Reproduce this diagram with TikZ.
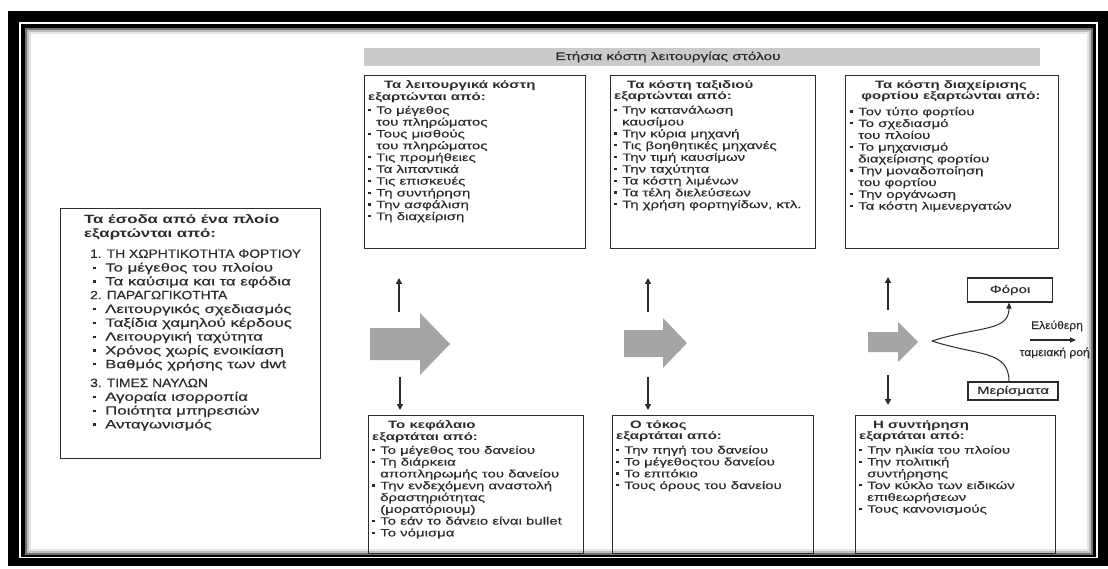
\documentclass[tikz,border=0pt]{standalone}
\usepackage{fontspec}
\setmainfont{Liberation Sans}[FakeStretch=1.4, UprightFeatures={FakeBold=0.35}]
\newfontfamily\capsf{Liberation Sans}[FakeStretch=1.15, FakeBold=0.35]
\newfontfamily\narf{Liberation Sans}[FakeStretch=1.1, FakeBold=0.35]
\usetikzlibrary{arrows.meta}
\definecolor{ink}{HTML}{2B2B2B}
\definecolor{barg}{HTML}{CACACA}
\definecolor{arrg}{HTML}{A5A5A5}
\newcommand{\bu}{\makebox[8pt][l]{\raisebox{2.6pt}{\rule{3pt}{2.2pt}}}}
\newcommand{\lbu}{\makebox[12pt][l]{\raisebox{2.8pt}{\rule{3pt}{2.2pt}}}}
\newcommand{\ind}{\hspace*{8pt}}
\begin{document}
\begin{tikzpicture}[x=1pt,y=-1pt,
  box/.style={draw=ink, line width=1.1pt, inner sep=0pt, anchor=north west},
  txt/.style={anchor=north west, align=left, inner sep=0pt, text=ink, font=\fontsize{10.7}{11.8}\selectfont},
  ltxt/.style={txt, font=\fontsize{12}{13.8}\selectfont},
  sarrow/.style={draw=ink, line width=1.6pt, -{Triangle[length=6pt,width=6pt]}},
  thinline/.style={draw=ink, line width=1pt},
  big/.style={fill=arrg, draw=none}]
\useasboundingbox (0,0) rectangle (1108,569);
% frame
\fill[black] (8,11) rectangle (1108,566);
\fill[white] (19,22) rectangle (1098,558);
\fill[black] (21,24) rectangle (1096,557);
\fill[white] (25,28) rectangle (1093,555);
\draw[black!55, line width=2pt] (26,29) rectangle (1092,554);
\draw[black!25, line width=2pt] (28,31) rectangle (1090,552);
\draw[black!10, line width=2pt] (30,33) rectangle (1088,550);

% header bar
\node[fill=barg, inner sep=0pt, anchor=north west, minimum width=676, minimum height=18] (bar) at (364,48) {};
\node[text=ink, inner sep=0pt, font=\fontsize{11}{12}\selectfont] (bartxt) at (668,57) {Ετήσια κόστη λειτουργίας στόλου};

% left box
\node[box, minimum width=260, minimum height=250] (lb) at (60,208) {};
\node[ltxt] (lbt) at (84,214) {\textbf{Τα έσοδα από ένα πλοίο}\\
\textbf{εξαρτώνται από:}\\[7pt]
\hspace*{6pt}{\capsf 1. ΤΗ ΧΩΡΗΤΙΚΟΤΗΤΑ ΦΟΡΤΙΟΥ}\\
\hspace*{9pt}\lbu Το μέγεθος του πλοίου\\
\hspace*{9pt}\lbu Τα καύσιμα και τα εφόδια\\
\hspace*{6pt}{\capsf 2. ΠΑΡΑΓΩΓΙΚΟΤΗΤΑ}\\
\hspace*{9pt}\lbu Λειτουργικός σχεδιασμός\\
\hspace*{9pt}\lbu Ταξίδια χαμηλού κέρδους\\
\hspace*{9pt}\lbu Λειτουργική ταχύτητα\\
\hspace*{9pt}\lbu Χρόνος χωρίς ενοικίαση\\
\hspace*{9pt}\lbu Βαθμός χρήσης των dwt\\[5pt]
\hspace*{6pt}{\capsf 3. ΤΙΜΕΣ ΝΑΥΛΩΝ}\\
\hspace*{9pt}\lbu Αγοραία ισορροπία\\
\hspace*{9pt}\lbu Ποιότητα μπηρεσιών\\
\hspace*{9pt}\lbu Ανταγωνισμός};

% top boxes
\node[box, minimum width=221, minimum height=173] (b1) at (364,75) {};
\node[txt] (b1t) at (368,80) {\hspace*{16pt}\textbf{Τα λειτουργικά κόστη}\\
\textbf{εξαρτώνται από:}\\[2pt]
\bu Το μέγεθος\\
\ind του πληρώματος\\
\bu Τους μισθούς\\
\ind του πληρώματος\\
\bu Τις προμήθειες\\
\bu Τα λιπαντικά\\
\bu Τις επισκευές\\
\bu Τη συντήρηση\\
\bu Την ασφάλιση\\
\bu Τη διαχείριση};

\node[box, minimum width=205, minimum height=173] (b2) at (610,75) {};
\node[txt] (b2t) at (614,80) {\hspace*{13pt}\textbf{Τα κόστη ταξιδιού}\\
\textbf{εξαρτώνται από:}\\[2pt]
\bu Την κατανάλωση\\
\ind καυσίμου\\
\bu Την κύρια μηχανή\\
\bu Τις βοηθητικές μηχανές\\
\bu Την τιμή καυσίμων\\
\bu Την ταχύτητα\\
\bu Τα κόστη λιμένων\\
\bu Τα τέλη διελεύσεων\\
\bu Τη χρήση φορτηγίδων, κτλ.};

\node[box, minimum width=213, minimum height=173] (b3) at (845,75) {};
\node[txt, anchor=north, align=center] (b3h) at (951,80) {\textbf{Τα κόστη διαχείρισης}\\ \textbf{φορτίου εξαρτώνται από:}};
\node[txt] (b3t) at (850,107) {\bu Τον τύπο φορτίου\\
\bu Το σχεδιασμό\\
\ind του πλοίου\\
\bu Το μηχανισμό\\
\ind διαχείρισης φορτίου\\
\bu Την μοναδοποίηση\\
\ind του φορτίου\\
\bu Την οργάνωση\\
\bu Τα κόστη λιμενεργατών};

% bottom boxes
\node[box, minimum width=215, minimum height=138] (d1) at (368,415) {};
\node[txt] (d1t) at (372,420) {\hspace*{16pt}\textbf{Το κεφάλαιο}\\
\textbf{εξαρτάται από:}\\[2pt]
\bu Το μέγεθος του δανείου\\
\bu Τη διάρκεια\\
\ind αποπληρωμής του δανείου\\
\bu Την ενδεχόμενη αναστολή\\
\ind δραστηριότητας\\
\ind (μορατόριουμ)\\
\bu Το εάν το δάνειο είναι bullet\\
\bu Το νόμισμα};

\node[box, minimum width=201, minimum height=138] (d2) at (612,415) {};
\node[txt] (d2t) at (616,420) {\hspace*{14pt}\textbf{Ο τόκος}\\
\textbf{εξαρτάται από:}\\[2pt]
\bu Την πηγή του δανείου\\
\bu Το μέγεθοςτου δανείου\\
\bu Το επιτόκιο\\
\bu Τους όρους του δανείου};

\node[box, minimum width=200, minimum height=138] (d3) at (855,415) {};
\node[txt] (d3t) at (859,420) {\hspace*{14pt}\textbf{Η συντήρηση}\\
\textbf{εξαρτάται από:}\\[2pt]
\bu Την ηλικία του πλοίου\\
\bu Την πολιτική\\
\ind συντήρησης\\
\bu Τον κύκλο των ειδικών\\
\ind επιθεωρήσεων\\
\bu Τους κανονισμούς};

% big grey arrows
\fill[big] (370,328) -- (420,328) -- (420,313) -- (450,344) -- (420,375) -- (420,360) -- (370,360) -- cycle;
\fill[big] (624,330) -- (663,330) -- (663,318) -- (687,343) -- (663,368) -- (663,357) -- (624,357) -- cycle;
\fill[big] (868,332) -- (898,332) -- (898,322) -- (918,342) -- (898,362) -- (898,352) -- (868,352) -- cycle;

% small arrows
\coordinate (u1s) at (399,312); \coordinate (u1e) at (399,278);
\coordinate (v1s) at (400,377); \coordinate (v1e) at (400,410);
\coordinate (u2s) at (648,312); \coordinate (u2e) at (648,278);
\coordinate (v2s) at (648,377); \coordinate (v2e) at (648,410);
\coordinate (u3s) at (888,310); \coordinate (u3e) at (888,277);
\coordinate (v3s) at (888,375); \coordinate (v3e) at (888,405);
\draw[sarrow] (u1s) -- (u1e);
\draw[sarrow] (v1s) -- (v1e);
\draw[sarrow] (u2s) -- (u2e);
\draw[sarrow] (v2s) -- (v2e);
\draw[sarrow] (u3s) -- (u3e);
\draw[sarrow] (v3s) -- (v3e);

% right part
\node[box, anchor=center, minimum width=85, minimum height=24] (foroi) at (1010,290) {};
\node[txt, anchor=center] (foroit) at (foroi.center) {Φόροι};
\node[box, anchor=center, minimum width=90, minimum height=18] (meris) at (1013,391) {};
\node[txt, anchor=center] (merist) at (meris.center) {Μερίσματα};
\coordinate (fork) at (932,341);
\draw[thinline, -{Triangle[length=6pt,width=5pt]}] (fork) .. controls (978,326) and (1009,332) .. (foroi.south -| 1009,0);
\draw[thinline] (fork) .. controls (978,356) and (1009,350) .. (meris.north -| 1009,0);
\coordinate (fs) at (1030,340); \coordinate (fe) at (1076,340);
\draw[thinline, line width=1.2pt, -{Triangle[length=6pt,width=5pt]}] (fs) -- (fe);
\node[txt, anchor=center, font=\narf\fontsize{11}{12}\selectfont] (ele) at (1057,326) {Ελεύθερη};
\node[txt, anchor=east, font=\narf\fontsize{11}{12}\selectfont] (tam) at (1090,353) {ταμειακή ροή};
\end{tikzpicture}
\end{document}
